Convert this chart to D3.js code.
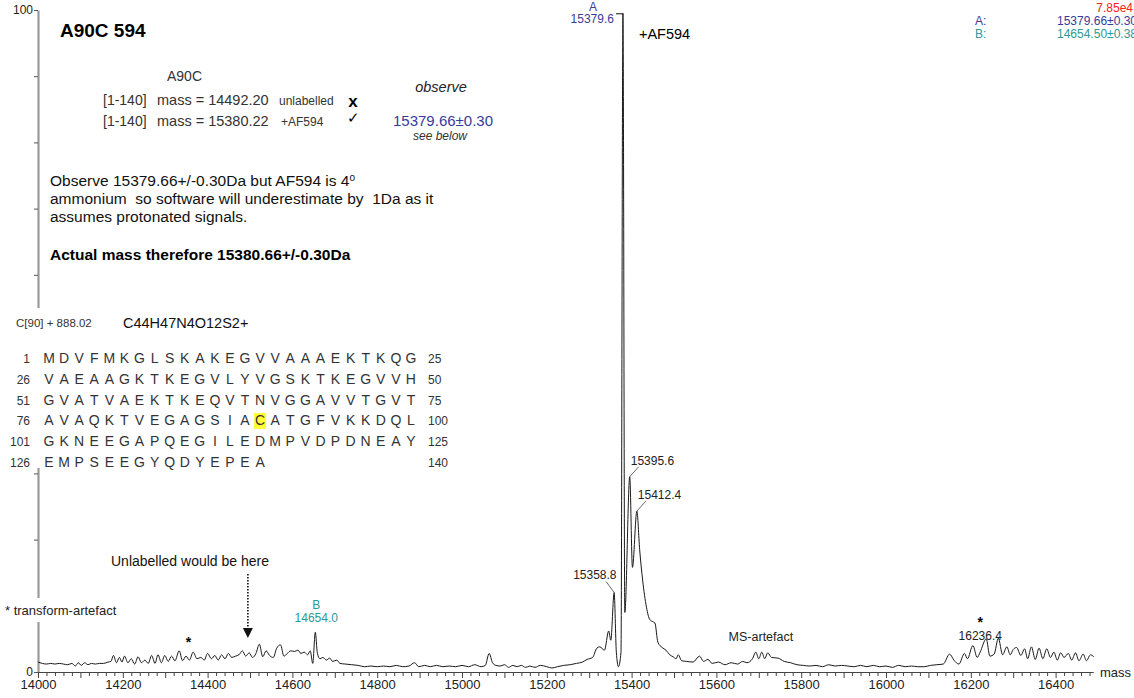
<!DOCTYPE html>
<meta charset="utf-8">

<!-- Load d3.js -->
<script src="https://d3js.org/d3.v7.min.js"></script>

<style>
  body { margin: 0; background: #fff; }
  svg { display: block; }
  text { font-family: Arial, "Liberation Sans", sans-serif; }
</style>

<!-- Create a div where the graph will take place -->
<div id="spectrum"></div>

<script>

  // deconvoluted spectrum: [mass (Da), relative intensity (%)]
  var spectrum = [
    [14000,1.5],[14010,1.3],[14020,1.2],[14030,1.3],[14040,1.2],[14050,1.3],[14060,1.2],[14070,1.1],
    [14080,1.3],[14088,0.9],[14095,1.4],[14102,1.0],[14110,1.4],[14118,1.1],[14126,1.3],[14135,1.2],
    [14145,1.3],[14155,1.3],[14165,1.5],[14172,1.6],[14178,2.5],[14185,1.4],[14192,2.2],[14198,1.5],
    [14204,2.4],[14212,1.4],[14220,2.0],[14228,1.2],[14236,2.3],[14244,1.4],[14252,1.8],[14260,1.3],
    [14268,2.5],[14276,1.3],[14283,2.6],[14291,1.4],[14299,2.5],[14307,1.6],[14315,2.4],[14323,1.7],
    [14333,3.2],[14341,1.7],[14349,2.4],[14357,1.8],[14366,3.0],[14375,2.0],[14384,2.2],[14392,1.8],
    [14400,2.8],[14409,2.0],[14417,2.5],[14425,1.8],[14433,2.6],[14441,2.0],[14449,2.8],[14457,2.2],
    [14466,2.4],[14474,2.6],[14482,3.2],[14490,2.4],[14498,2.9],[14506,2.2],[14514,2.8],[14522,4.2],
    [14530,2.3],[14538,3.2],[14546,2.5],[14555,2.2],[14563,3.6],[14572,4.1],[14580,2.4],[14588,2.8],
    [14596,3.2],[14605,3.1],[14613,3.3],[14620,2.8],[14628,3.0],[14636,2.6],[14642,3.2],[14648,1.3],
    [14654,6.0],[14659,2.8],[14665,2.0],[14672,2.2],[14680,1.8],[14688,2.1],[14695,1.6],[14705,1.8],
    [14712,1.3],[14725,1.2],[14740,1.1],[14755,1.0],[14770,0.8],[14785,0.9],[14800,0.8],[14815,0.9],
    [14830,0.8],[14845,1.0],[14860,0.8],[14875,0.9],[14888,1.4],[14898,0.8],[14912,1.0],[14925,0.8],
    [14940,1.0],[14955,0.8],[14970,0.9],[14985,0.8],[15000,1.0],[15015,0.8],[15030,1.1],[15045,0.8],
    [15055,1.0],[15064,2.8],[15072,1.4],[15080,1.0],[15090,0.9],[15100,1.1],[15110,0.7],[15120,1.0],
    [15130,0.8],[15140,1.0],[15150,0.7],[15160,0.9],[15172,0.7],[15185,1.0],[15200,0.8],[15212,0.6],
    [15225,0.8],[15240,1.0],[15255,1.1],[15270,1.3],[15284,1.5],[15295,1.9],[15308,2.2],[15318,3.6],
    [15325,3.8],[15336,3.3],[15346,6.2],[15351,4.8],[15358.8,12.0],[15364,3.0],[15369,0.8],[15375,3.0],
    [15379.6,99.5],[15384,9.0],[15395.6,29.5],[15402,15.8],[15412.4,24.3],[15419,18.5],[15426,13.9],
    [15435,9.8],[15443,7.9],[15450,7.6],[15455,7.4],[15462,4.5],[15472,3.7],[15481,3.3],[15490,2.6],
    [15498,2.3],[15505,2.0],[15510,2.6],[15518,1.7],[15530,1.6],[15545,1.5],[15560,2.4],[15570,1.6],
    [15580,1.9],[15590,1.3],[15605,1.5],[15620,1.1],[15635,1.4],[15650,1.2],[15662,1.6],[15672,1.4],
    [15685,2.0],[15693,3.0],[15700,2.0],[15707,3.0],[15714,2.0],[15721,2.9],[15730,2.2],[15745,2.1],
    [15760,1.6],[15775,1.4],[15790,1.1],[15805,1.0],[15820,0.9],[15835,1.0],[15850,0.8],[15865,1.1],
    [15880,0.9],[15895,1.0],[15910,0.9],[15925,0.8],[15940,1.0],[15955,0.8],[15970,1.0],[15985,0.8],
    [16000,0.9],[16015,0.7],[16030,1.0],[16045,0.8],[16060,0.9],[16075,0.8],[16090,0.8],[16105,1.0],
    [16120,1.1],[16135,1.2],[16150,2.7],[16160,1.8],[16172,1.2],[16185,2.8],[16192,2.0],[16205,4.0],
    [16215,2.2],[16222,3.0],[16236.4,5.0],[16245,2.4],[16255,2.7],[16265,5.1],[16275,2.6],[16285,3.8],
    [16293,2.6],[16300,3.4],[16308,3.7],[16318,2.5],[16327,3.5],[16334,2.0],[16343,3.8],[16352,1.9],
    [16361,3.6],[16370,2.0],[16379,3.5],[16388,2.2],[16396,3.0],[16404,1.8],[16412,2.9],[16420,2.2],
    [16430,2.8],[16438,1.8],[16447,2.9],[16455,1.7],[16465,2.7],[16473,1.7],[16482,2.6],[16490,2.3]
  ];

  // axis ticks
  var xTicks = d3.range(14000, 16481, 20);
  var xLabels = [14000, 14200, 14400, 14600, 14800, 15000, 15200, 15400, 15600, 15800, 16000, 16200, 16400];
  var yTicks = [0, 10, 20, 30, 40, 50, 60, 70, 80, 90, 100];

  // components found by the deconvolution
  var components = [
    {name: "A", mass: 15379.6, label: "15379.6", result: "15379.66\u00b10.30"},
    {name: "B", mass: 14654.0, label: "14654.0", result: "14654.50\u00b10.38"}
  ];
  var maxCounts = "7.85e4";

  // other peak labels
  var peakLabels = [
    {mass: 15358.8, text: "15358.8"},
    {mass: 15395.6, text: "15395.6"},
    {mass: 15412.4, text: "15412.4"},
    {mass: 16236.4, text: "16236.4"}
  ];

  // theoretical masses
  var theory = [
    {range: "[1-140]", mass: "14492.20", note: "unlabelled", mark: "x"},
    {range: "[1-140]", mass: "15380.22", note: "+AF594", mark: "\u2713"}
  ];

  // protein sequence, 25 residues per row
  var seqRows = [
    "MDVFMKGLSKAKEGVVAAAEKTKQG",
    "VAEAAGKTKEGVLYVGSKTKEGVVH",
    "GVATVAEKTKEQVTNVGGAVVTGVT",
    "AVAQKTVEGAGSIACATGFVKKDQL",
    "GKNEEGAPQEGILEDMPVDPDNEAY",
    "EMPSEEGYQDYEPEA"
  ];
  var labelledResidue = 90;
  var unlabelledMass = 14495;
  var artefactMasses = [14355, 16236.4];
  var msArtefactMass = 15705;

  var W = 1134, H = 698;
  var svg = d3.select("#spectrum")
    .append("svg")
      .attr("width", W)
      .attr("height", H);

  var blue = "#3a3a9c", teal = "#2a9a9a";

  // scales
  var x = d3.scaleLinear().domain([14000, 16500]).range([38, 1098]);
  var y = d3.scaleLinear().domain([0, 100]).range([672, 10]);

  // Y axis (grey bar with ticks)
  var yAxis = svg.append("g")
    .attr("transform", "translate(38,0)")
    .call(d3.axisLeft(y).tickValues(yTicks).tickSize(4).tickSizeOuter(0)
      .tickFormat(function(d){ return (d == 0 || d == 100) ? d : ""; }));
  yAxis.select(".domain").attr("stroke", "#9a9a9a").attr("stroke-width", 2.2);
  yAxis.selectAll(".tick line").attr("stroke", "#555");
  yAxis.selectAll(".tick text").style("font-size", "12px").attr("fill", "#222").attr("x", -5);

  // X axis
  var xAxis = svg.append("g")
    .attr("transform", "translate(0,672)")
    .call(d3.axisBottom(x).tickValues(xTicks).tickSizeOuter(0).tickSize(4)
      .tickFormat(function(d){ return xLabels.indexOf(d) >= 0 ? d : ""; }));
  xAxis.select(".domain").attr("d", "M" + x(14000) + ",0.5H" + x(16490));
  xAxis.selectAll(".domain, .tick line").attr("stroke", "#444");
  xAxis.selectAll(".tick line").attr("y2", function(d){ return d % 100 == 0 ? 6 : 4; });
  xAxis.selectAll(".tick text").style("font-size", "13px").attr("fill", "#222").attr("y", 8);

  svg.append("text").attr("x", 1100).attr("y", 677).text("mass")
    .style("font-size", "13px").attr("fill", "#222");

  // white text boxes that sit over the y axis
  svg.append("rect").attr("x", 0).attr("y", 308).attr("width", 470).attr("height", 160).attr("fill", "#fff");
  svg.append("rect").attr("x", 0).attr("y", 598).attr("width", 170).attr("height", 24).attr("fill", "#fff");

  // spectrum trace
  var line = d3.line()
    .curve(d3.curveMonotoneX)
    .x(function(d){ return x(d[0]); })
    .y(function(d){ return y(d[1]); });
  svg.append("path")
    .datum(spectrum)
    .attr("fill", "none")
    .attr("stroke", "#1a1a1a")
    .attr("stroke-width", 1)
    .attr("d", line);

  function intensityAt(m) {
    var p = spectrum.find(function(d){ return d[0] == m; });
    return p ? p[1] : 0;
  }

  // component A label (bracket to top of peak)
  var a = components[0], ax = x(a.mass), ay = y(intensityAt(a.mass));
  svg.append("path").attr("d", "M" + (ax - 7) + "," + (ay + 0.5) + "H" + ax)
    .attr("stroke", "#111").attr("fill", "none");
  svg.append("text").attr("x", ax - 30).attr("y", 11).attr("text-anchor", "middle")
    .text(a.name).style("font-size", "12px").attr("fill", blue);
  svg.append("text").attr("x", ax - 9).attr("y", ay + 10).attr("text-anchor", "end")
    .text(a.label).style("font-size", "12px").attr("fill", blue);
  svg.append("text").attr("x", ax + 16).attr("y", 39).text("+AF594").style("font-size", "14.5px");

  // component B label
  var b = components[1], bx = x(b.mass), by = y(intensityAt(b.mass));
  svg.append("text").attr("x", bx + 1).attr("y", by - 23).attr("text-anchor", "middle")
    .text(b.name).style("font-size", "12px").attr("fill", teal);
  svg.append("text").attr("x", bx + 1).attr("y", by - 10).attr("text-anchor", "middle")
    .text(b.label).style("font-size", "12px").attr("fill", teal);

  // peak labels with leader lines
  peakLabels.forEach(function(p) {
    var px = x(p.mass), py = y(intensityAt(p.mass));
    if (p.mass == 16236.4) {
      svg.append("text").attr("x", px - 6).attr("y", py + 1).attr("text-anchor", "middle")
        .text(p.text).style("font-size", "12px").attr("fill", "#222");
      return;
    }
    var lx, ly, tx, ty;
    if (p.mass < 15379.6) {
      lx = px - 8; ly = py - 11; tx = px - 41; ty = py - 14;
    } else {
      lx = px + 9; ly = py - 10; tx = px + 1; ty = py - 12;
    }
    svg.append("path").attr("d", "M" + px + "," + py + "L" + lx + "," + ly)
      .attr("stroke", "#444").attr("fill", "none").attr("stroke-width", 0.8);
    svg.append("text").attr("x", tx).attr("y", ty)
      .text(p.text).style("font-size", "12px").attr("fill", "#222");
  });

  // artefact asterisks
  svg.append("text").attr("x", x(artefactMasses[0])).attr("y", 647).attr("text-anchor", "middle")
    .text("*").style("font-size", "14px").style("font-weight", "bold");
  svg.append("text").attr("x", x(artefactMasses[1]) - 6).attr("y", 627).attr("text-anchor", "middle")
    .text("*").style("font-size", "14px").style("font-weight", "bold");
  svg.append("text").attr("x", 5).attr("y", 615).text("* transform-artefact")
    .style("font-size", "13px").attr("fill", "#222");
  svg.append("text").attr("x", x(msArtefactMass)).attr("y", 641).attr("text-anchor", "middle")
    .text("MS-artefact").style("font-size", "12.5px").attr("fill", "#222");

  // where the unlabelled protein would be
  var ux = x(unlabelledMass);
  svg.append("text").attr("x", 111).attr("y", 566).text("Unlabelled would be here")
    .style("font-size", "14px").attr("fill", "#111");
  svg.append("line").attr("x1", ux).attr("x2", ux).attr("y1", 574).attr("y2", 628)
    .attr("stroke", "#111").attr("stroke-width", 1.6).attr("stroke-dasharray", "1.5,1.5");
  svg.append("path").attr("d", "M" + (ux - 5) + ",628H" + (ux + 5) + "L" + ux + ",638Z").attr("fill", "#111");

  // top right results
  svg.append("text").attr("x", 1133).attr("y", 12).attr("text-anchor", "end")
    .text(maxCounts).style("font-size", "12px").attr("fill", "#ff2020");
  components.forEach(function(c, i) {
    var col = i == 0 ? blue : teal;
    svg.append("text").attr("x", 975).attr("y", 25 + i * 13).text(c.name + ":")
      .style("font-size", "12px").attr("fill", col);
    svg.append("text").attr("x", 1057).attr("y", 25 + i * 13).text(c.result)
      .style("font-size", "12px").attr("fill", col);
  });

  // title and notes
  svg.append("text").attr("x", 60).attr("y", 37).text("A90C 594")
    .style("font-size", "19px").style("font-weight", "bold");
  svg.append("text").attr("x", 167).attr("y", 81).text("A90C")
    .style("font-size", "14px").attr("fill", "#333");
  theory.forEach(function(t, i) {
    var ty = 105 + i * 21;
    svg.append("text").attr("x", 103).attr("y", ty).text(t.range)
      .style("font-size", "14px").attr("fill", "#333");
    svg.append("text").attr("x", 157).attr("y", ty).text("mass = " + t.mass)
      .style("font-size", "14.5px").attr("fill", "#333");
    svg.append("text").attr("x", i == 0 ? 279 : 281).attr("y", ty).text(t.note)
      .style("font-size", "12px").attr("fill", "#333");
    svg.append("text").attr("x", 353).attr("y", i == 0 ? ty + 2 : ty - 3).attr("text-anchor", "middle")
      .text(t.mark).style("font-size", i == 0 ? "17px" : "15px").style("font-weight", i == 0 ? "bold" : "normal");
  });
  svg.append("text").attr("x", 441).attr("y", 92).attr("text-anchor", "middle").text("observe")
    .style("font-size", "14.5px").style("font-style", "italic").attr("fill", "#222");
  svg.append("text").attr("x", 443).attr("y", 126).attr("text-anchor", "middle").text(components[0].result)
    .style("font-size", "15px").attr("fill", blue);
  svg.append("text").attr("x", 440).attr("y", 140).attr("text-anchor", "middle").text("see below")
    .style("font-size", "12px").style("font-style", "italic").attr("fill", "#333");

  var note = svg.append("text").attr("x", 50).attr("y", 186).style("font-size", "15.5px").attr("fill", "#111");
  note.append("tspan").text("Observe 15379.66+/-0.30Da but AF594 is 4");
  note.append("tspan").attr("dy", -5).style("font-size", "10px").text("o");
  svg.append("text").attr("x", 50).attr("y", 204).text("ammonium  so software will underestimate by  1Da as it")
    .style("font-size", "15.5px").style("white-space", "pre").attr("xml:space", "preserve").attr("fill", "#111");
  svg.append("text").attr("x", 50).attr("y", 222).text("assumes protonated signals.")
    .style("font-size", "15.5px").attr("fill", "#111");
  svg.append("text").attr("x", 50).attr("y", 260).text("Actual mass therefore 15380.66+/-0.30Da")
    .style("font-size", "15.5px").style("font-weight", "bold");

  svg.append("text").attr("x", 16).attr("y", 327).text("C[90] + 888.02")
    .style("font-size", "11.5px").attr("fill", "#333");
  svg.append("text").attr("x", 123).attr("y", 328).text("C44H47N4O12S2+")
    .style("font-size", "14.5px").attr("fill", "#111");

  // sequence block
  var pitch = 15.08;
  seqRows.forEach(function(row, r) {
    var sy = 363 + r * 20.8;
    var first = r * 25 + 1;
    svg.append("text").attr("x", 30).attr("y", sy).attr("text-anchor", "end").text(first)
      .style("font-size", "12px").attr("fill", "#333");
    svg.append("text").attr("x", 428).attr("y", sy).text(first + row.length - 1)
      .style("font-size", "12px").attr("fill", "#333");
    row.split("").forEach(function(ch, i) {
      var cx = 49 + i * pitch;
      if (first + i == labelledResidue) {
        svg.append("rect").attr("x", cx - 6).attr("y", sy - 12.5).attr("width", 12).attr("height", 16)
          .attr("fill", "#ffff33");
      }
      svg.append("text").attr("x", cx).attr("y", sy).attr("text-anchor", "middle").text(ch)
        .style("font-size", "14px").attr("fill", "#333");
    });
  });

</script>
